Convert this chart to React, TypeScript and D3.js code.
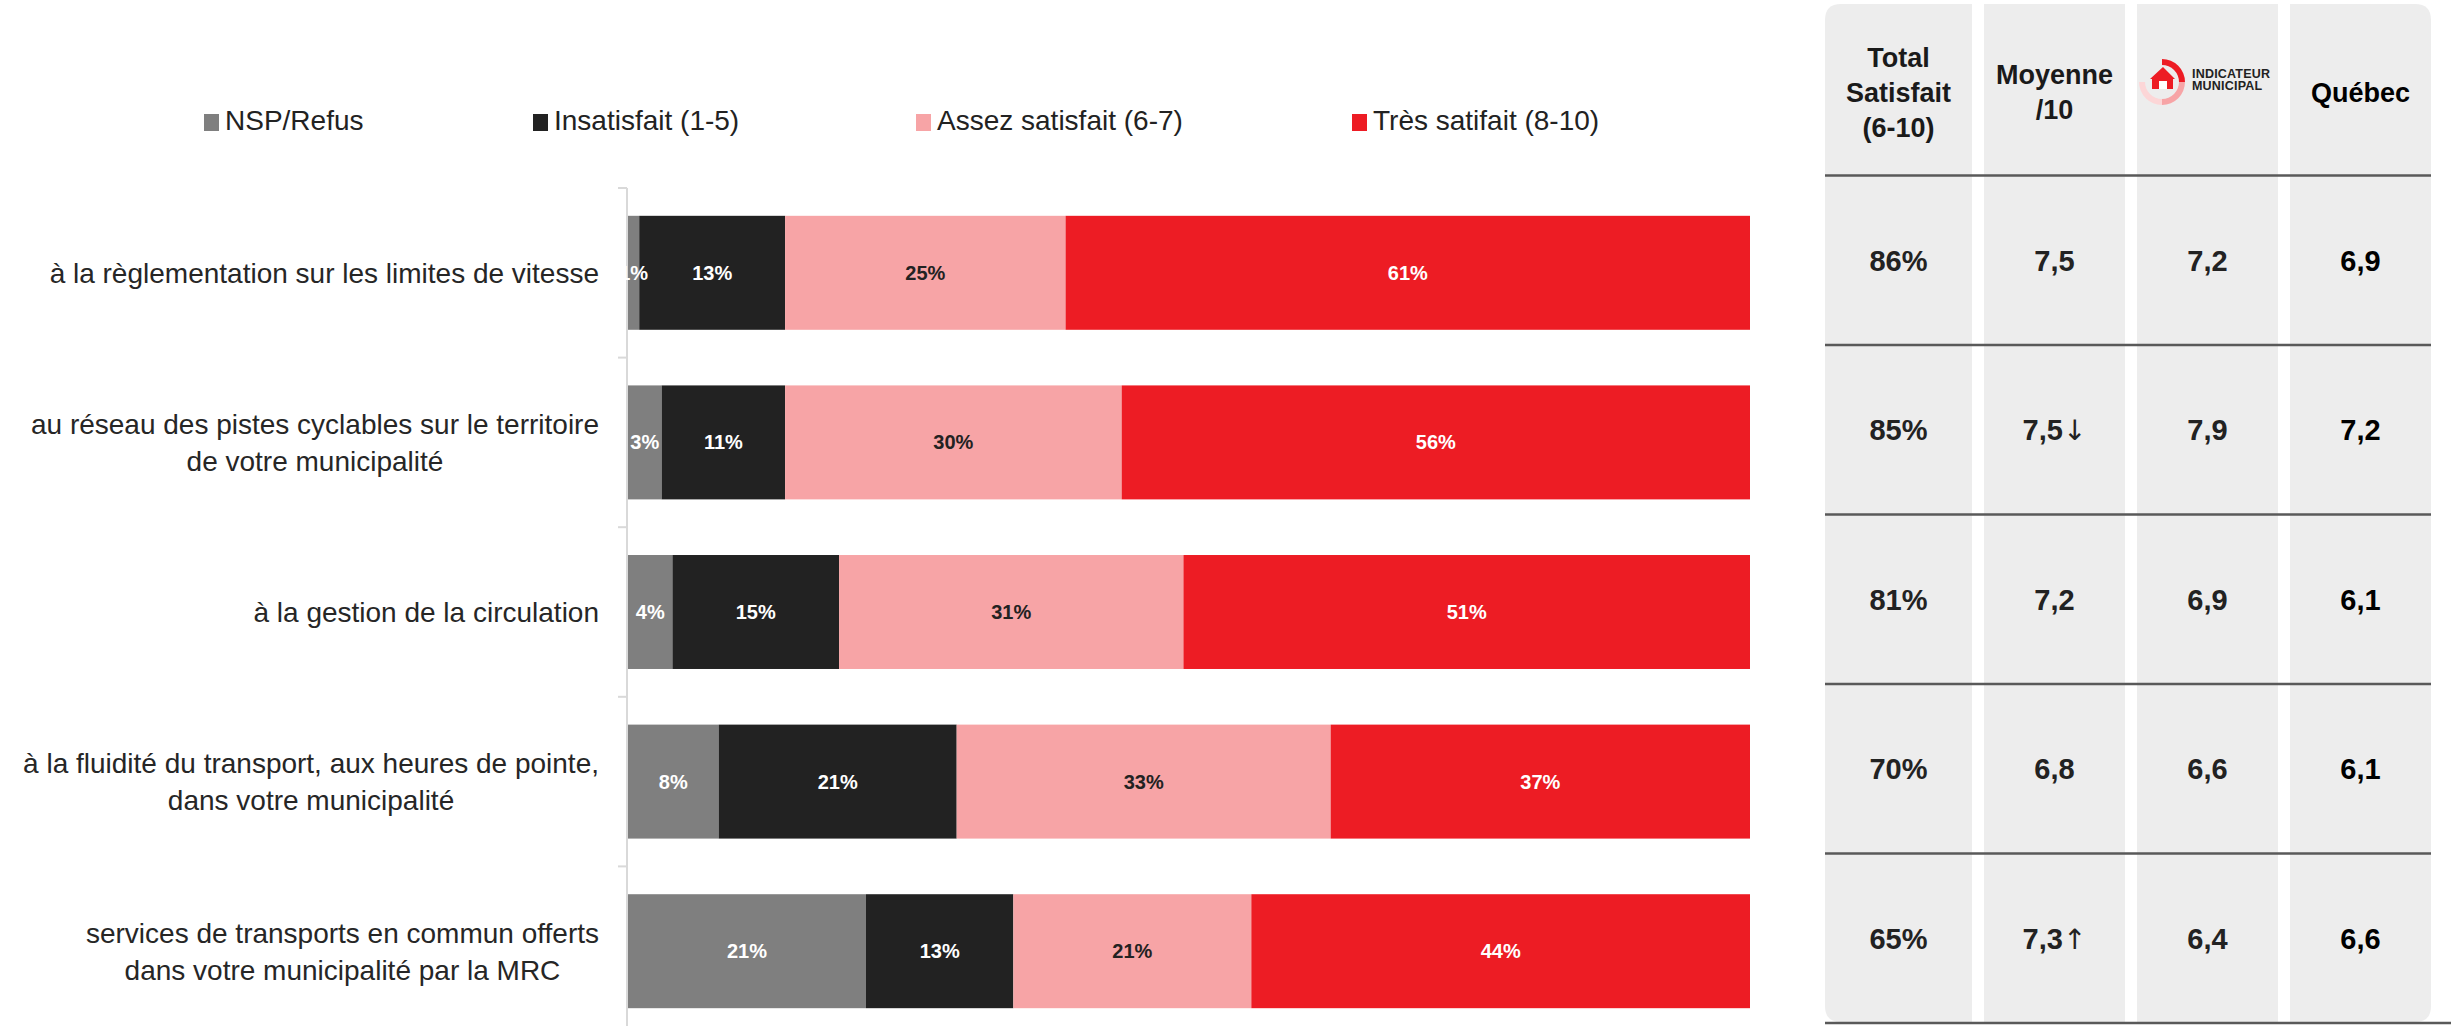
import React from "react";
import * as d3 from "d3";

// ---------- DATA ----------
const categoryLines: string[][] = [
  ["à la règlementation sur les limites de vitesse"],
  ["au réseau des pistes cyclables sur le territoire", "de votre municipalité"],
  ["à la gestion de la circulation"],
  ["à la fluidité du transport, aux heures de pointe,", "dans votre municipalité"],
  ["services de transports en commun offerts", "dans votre municipalité par la MRC"],
];
const seriesKeys = ["nsp", "insat", "assez", "tres"];
const seriesNames = ["NSP/Refus", "Insatisfait (1-5)", "Assez satisfait (6-7)", "Très satifait (8-10)"];
const nspValues = [1, 3, 4, 8, 21];
const insatValues = [13, 11, 15, 21, 13];
const assezValues = [25, 30, 31, 33, 21];
const tresValues = [61, 56, 51, 37, 44];

const headerTotal = ["Total", "Satisfait", "(6-10)"];
const headerMoyenne = ["Moyenne", "/10"];
const headerQuebec = ["Québec"];
const totalSatisfait = ["86%", "85%", "81%", "70%", "65%"];
const moyenne = ["7,5", "7,5", "7,2", "6,8", "7,3"];
const moyenneTrend = ["", "↓", "", "", "↑"];
const indicateur = ["7,2", "7,9", "6,9", "6,6", "6,4"];
const quebec = ["6,9", "7,2", "6,1", "6,1", "6,6"];

// ---------- STYLE ----------
const W = 2451;
const H = 1026;
const FONT = '"Liberation Sans", Arial, sans-serif';
const colors = ["#7f7f7f", "#222222", "#f7a4a6", "#ed1c24"];
const labelColors = ["#ffffff", "#ffffff", "#222222", "#ffffff"];
const legendX = [204, 533, 916, 1352];

const measureCanvas = typeof document !== "undefined" ? document.createElement("canvas") : null;
function textWidth(s: string, font: string) {
  if (!measureCanvas) return s.length * 14;
  const ctx = measureCanvas.getContext("2d")!;
  ctx.font = font;
  return ctx.measureText(s).width;
}

function roundedRect(x: number, y: number, w: number, h: number, tl: number, tr: number, br: number, bl: number) {
  return `M${x + tl},${y} H${x + w - tr} Q${x + w},${y} ${x + w},${y + tr} V${y + h - br} Q${x + w},${y + h} ${x + w - br},${y + h} H${x + bl} Q${x},${y + h} ${x},${y + h - bl} V${y + tl} Q${x},${y} ${x + tl},${y} Z`;
}

export default function App() {
  const rows = categoryLines.map((_, i) => ({
    i,
    nsp: nspValues[i],
    insat: insatValues[i],
    assez: assezValues[i],
    tres: tresValues[i],
  }));
  const stack = d3.stack<any>().keys(seriesKeys).offset(d3.stackOffsetExpand);
  const stacked = stack(rows);

  const x = d3.scaleLinear().domain([0, 1]).range([628, 1750]);
  const y = d3
    .scaleBand<number>()
    .domain(d3.range(5))
    .range([188, 188 + 5 * 169.6])
    .paddingInner(0.328)
    .paddingOuter(0.164);
  const yT = d3.scaleBand<number>().domain(d3.range(5)).range([175.5, 175.5 + 5 * 169.5]);

  const labelFs = 28;
  const labelFont = `${labelFs}px ${FONT}`;
  const labelRight = 599;
  const lineH = 37;

  const cols = [
    { x0: 1825, x1: 1972 },
    { x0: 1984, x1: 2125 },
    { x0: 2137, x1: 2278 },
    { x0: 2290, x1: 2431 },
  ];
  const colTop = 4;
  const colBottom = 1022;
  const rad = 16;
  const cx = (c: number) => (cols[c].x0 + cols[c].x1) / 2;
  const valFs = 29;
  const headFs = 27;

  const logoC = { x: 2162, y: 82 };
  const arc = d3.arc<any>().innerRadius(17).outerRadius(23);
  const logoArcs = [
    { s: 0, e: Math.PI / 2, c: "#ed1c24" },
    { s: Math.PI / 2, e: Math.PI, c: "#f7a4a6" },
    { s: Math.PI, e: (3 * Math.PI) / 2, c: "#fcd6d7" },
  ];

  const tableColumns = [totalSatisfait, moyenne, indicateur, quebec];

  return (
    <svg
      width={W}
      height={H}
      style={{ position: "absolute", left: 0, top: 0, background: "#fff" }}
      fontFamily={FONT}
    >
      <rect x={0} y={0} width={W} height={H} fill="#fff" />

      {/* Legend */}
      {seriesNames.map((n, k) => (
        <g key={n}>
          <rect x={legendX[k]} y={114} width={15} height={17} fill={colors[k]} />
          <text x={legendX[k] + 21} y={130} fontSize={28} fill="#222">
            {n}
          </text>
        </g>
      ))}

      {/* Axis */}
      <line x1={627} x2={627} y1={188} y2={H} stroke="#d9d9d9" strokeWidth={2} />
      {d3.range(6).map((i) => {
        const yy = 188 + i * y.step();
        return <line key={i} x1={618} x2={627} y1={yy} y2={yy} stroke="#d9d9d9" strokeWidth={2} />;
      })}

      {/* Category labels */}
      {categoryLines.map((lines, i) => {
        const maxW = d3.max(lines, (l) => textWidth(l, labelFont)) || 0;
        const cxLab = labelRight - maxW / 2;
        const center = (y(i) || 0) + y.bandwidth() / 2;
        const first = center - ((lines.length - 1) * lineH) / 2;
        return (
          <text key={i} fontSize={labelFs} fill="#262626" textAnchor="middle">
            {lines.map((l, j) => (
              <tspan key={j} x={cxLab} y={first + j * lineH + labelFs * 0.36}>
                {l}
              </tspan>
            ))}
          </text>
        );
      })}

      {/* Bars */}
      {stacked.map((s, k) => (
        <g key={s.key}>
          {s.map((d, i) => (
            <rect
              key={i}
              x={x(d[0])}
              y={y(i)}
              width={x(d[1]) - x(d[0])}
              height={y.bandwidth()}
              fill={colors[k]}
            />
          ))}
        </g>
      ))}
      {stacked.map((s, k) => (
        <g key={s.key + "l"}>
          {s.map((d, i) => (
            <text
              key={i}
              x={(x(d[0]) + x(d[1])) / 2}
              y={(y(i) || 0) + y.bandwidth() / 2 + 7}
              textAnchor="middle"
              fontSize={20}
              fontWeight="bold"
              fill={labelColors[k]}
            >
              {(d.data as any)[s.key]}%
            </text>
          ))}
        </g>
      ))}

      {/* Table columns */}
      {cols.map((c, k) => (
        <path
          key={k}
          d={roundedRect(
            c.x0,
            colTop,
            c.x1 - c.x0,
            colBottom - colTop,
            k === 0 ? rad : 0,
            k === 3 ? rad : 0,
            k === 3 ? rad : 0,
            k === 0 ? rad : 0
          )}
          fill="#ededed"
        />
      ))}

      {/* Table header */}
      <text fontSize={headFs} fontWeight="bold" fill="#1a1a1a" textAnchor="middle">
        {headerTotal.map((t, j) => (
          <tspan key={j} x={cx(0)} y={67 + j * 35}>
            {t}
          </tspan>
        ))}
      </text>
      <text fontSize={headFs} fontWeight="bold" fill="#1a1a1a" textAnchor="middle">
        {headerMoyenne.map((t, j) => (
          <tspan key={j} x={cx(1)} y={84 + j * 35}>
            {t}
          </tspan>
        ))}
      </text>
      <text fontSize={headFs} fontWeight="bold" fill="#000" textAnchor="middle">
        {headerQuebec.map((t, j) => (
          <tspan key={j} x={cx(3)} y={102 + j * 35}>
            {t}
          </tspan>
        ))}
      </text>

      {/* Logo */}
      <g>
        {logoArcs.map((a, k) => (
          <path
            key={k}
            transform={`translate(${logoC.x},${logoC.y})`}
            d={arc({ startAngle: a.s, endAngle: a.e }) || ""}
            fill={a.c}
          />
        ))}
        <path
          d={`M${logoC.x + 1},${logoC.y - 15} L${logoC.x + 13},${logoC.y - 3} L${logoC.x + 11},${logoC.y - 3} L${logoC.x + 11},${logoC.y + 7} L${logoC.x - 10},${logoC.y + 7} L${logoC.x - 10},${logoC.y - 3} L${logoC.x - 12},${logoC.y - 3} Z`}
          fill="#ed1c24"
        />
        <rect x={logoC.x - 3} y={logoC.y - 1} width={8} height={8} fill="#ffffff" />
        <text x={2192} y={78} fontSize={12.5} fontWeight="bold" fill="#222" letterSpacing={0.2}>
          INDICATEUR
        </text>
        <text x={2192} y={90} fontSize={12.5} fontWeight="bold" fill="#222" letterSpacing={0.2}>
          MUNICIPAL
        </text>
      </g>

      {/* Table lines */}
      {d3.range(5).map((i) => (
        <line
          key={i}
          x1={1825}
          x2={2431}
          y1={yT(i) || 0}
          y2={yT(i) || 0}
          stroke="#595959"
          strokeWidth={2.5}
        />
      ))}
      <line x1={1825} x2={W} y1={1023} y2={1023} stroke="#595959" strokeWidth={2.5} />

      {/* Table values */}
      {tableColumns.map((col, c) =>
        col.map((v, i) => {
          const center = (yT(i) || 0) + yT.bandwidth() / 2;
          return (
            <text
              key={c + "-" + i}
              x={cx(c)}
              y={center + valFs * 0.36}
              textAnchor="middle"
              fontSize={valFs}
              fontWeight="bold"
              fill={c === 3 ? "#000" : "#222"}
            >
              {v}
              {c === 1 && moyenneTrend[i] ? (
                <tspan fontWeight="normal" fontFamily='"DejaVu Sans", sans-serif' fontSize={28}>
                  {moyenneTrend[i]}
                </tspan>
              ) : null}
            </text>
          );
        })
      )}
    </svg>
  );
}
